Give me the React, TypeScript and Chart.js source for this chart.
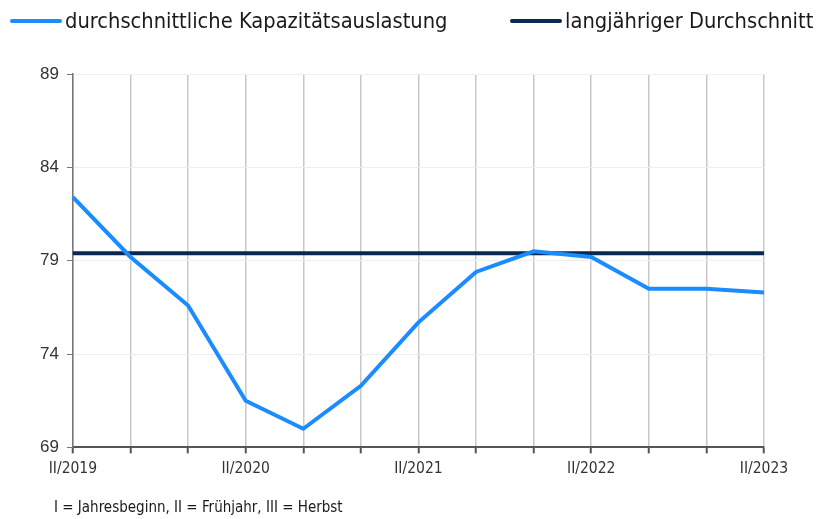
import React, { useEffect, useRef } from "react";
import { Chart, registerables } from "chart.js";

Chart.register(...registerables);

const categories = [
  "II/2019", "III/2019", "I/2020", "II/2020", "III/2020", "I/2021", "II/2021",
  "III/2021", "I/2022", "II/2022", "III/2022", "I/2023", "II/2023",
];
const utilization = [82.4, 79.2, 76.6, 71.5, 70.0, 72.3, 75.7, 78.4, 79.5, 79.2, 77.5, 77.5, 77.3];
const longTermAverage = [79.4, 79.4, 79.4, 79.4, 79.4, 79.4, 79.4, 79.4, 79.4, 79.4, 79.4, 79.4, 79.4];
const yTicks = [69, 74, 79, 84, 89];
const seriesNames = ["durchschnittliche Kapazitätsauslastung", "langjähriger Durchschnitt"];
const seriesColors = ["#1a8cff", "#0a2850"];
const footnote = "I = Jahresbeginn, II = Frühjahr, III = Herbst";

const FONT = '"DejaVu Sans Condensed", "Liberation Sans Narrow", sans-serif';
const NUM_FONT = '"Liberation Sans", Arial, sans-serif';

export default function App() {
  const ref = useRef<HTMLCanvasElement | null>(null);

  useEffect(() => {
    document.body.style.margin = "0";
    if (!ref.current) return;
    const chart = new Chart(ref.current, {
      type: "line",
      data: {
        labels: categories,
        datasets: [
          {
            label: seriesNames[0],
            data: utilization,
            borderColor: seriesColors[0],
            backgroundColor: seriesColors[0],
            borderWidth: 4,
            pointRadius: 0,
            tension: 0,
          },
          {
            label: seriesNames[1],
            data: longTermAverage,
            borderColor: seriesColors[1],
            backgroundColor: seriesColors[1],
            borderWidth: 4,
            pointRadius: 0,
            tension: 0,
          },
        ],
      },
      options: {
        animation: false,
        responsive: false,
        maintainAspectRatio: false,
        layout: { padding: { top: 74, left: 32, right: 53, bottom: 35 } },
        plugins: {
          legend: { display: false },
          tooltip: { enabled: false },
        },
        scales: {
          x: {
            offset: false,
            grid: {
              color: "#c8c8c8",
              lineWidth: 1.5,
              drawTicks: true,
              tickLength: 6,
              tickColor: "#555555",
              tickWidth: 2,
            },
            border: { color: "#555555", width: 2 },
            ticks: {
              autoSkip: false,
              maxRotation: 0,
              padding: 6,
              color: "#333333",
              font: { family: FONT, size: 15.5 },
              callback: (_v: any, i: number) => (i % 3 === 0 ? categories[i] : ""),
            },
          },
          y: {
            min: 69,
            max: 89,
            afterBuildTicks: (axis: any) => {
              axis.ticks = yTicks.map((v) => ({ value: v }));
            },
            grid: {
              color: "#eeeeee",
              lineWidth: 1,
              drawTicks: true,
              tickLength: 6,
              tickColor: "#777777",
            },
            border: { color: "#777777", width: 1.5 },
            ticks: {
              padding: 8,
              color: "#333333",
              font: { family: NUM_FONT, size: 17 },
            },
          },
        },
      },
    });
    return () => chart.destroy();
  }, []);

  const legendItem = (i: number, left: number) => (
    <div
      style={{
        position: "absolute",
        left,
        top: 8,
        height: 26,
        display: "flex",
        alignItems: "center",
        whiteSpace: "nowrap",
      }}
    >
      <div style={{ width: 52, height: 4, flexShrink: 0, background: seriesColors[i], borderRadius: 2, marginRight: 3 }} />
      <span style={{ fontFamily: FONT, fontSize: 21.7, color: "#1a1a1a", lineHeight: "26px" }}>{seriesNames[i]}</span>
    </div>
  );

  return (
    <div style={{ position: "relative", width: 817, height: 519, overflow: "hidden" }}>
      <canvas ref={ref} width={817} height={519} style={{ position: "absolute", left: 0, top: 0 }} />
      {legendItem(0, 10)}
      {legendItem(1, 510)}
      <div
        style={{
          position: "absolute",
          left: 54,
          top: 497,
          lineHeight: "20px",
          fontFamily: FONT,
          fontSize: 15,
          color: "#1a1a1a",
          whiteSpace: "nowrap",
        }}
      >
        {footnote}
      </div>
    </div>
  );
}
